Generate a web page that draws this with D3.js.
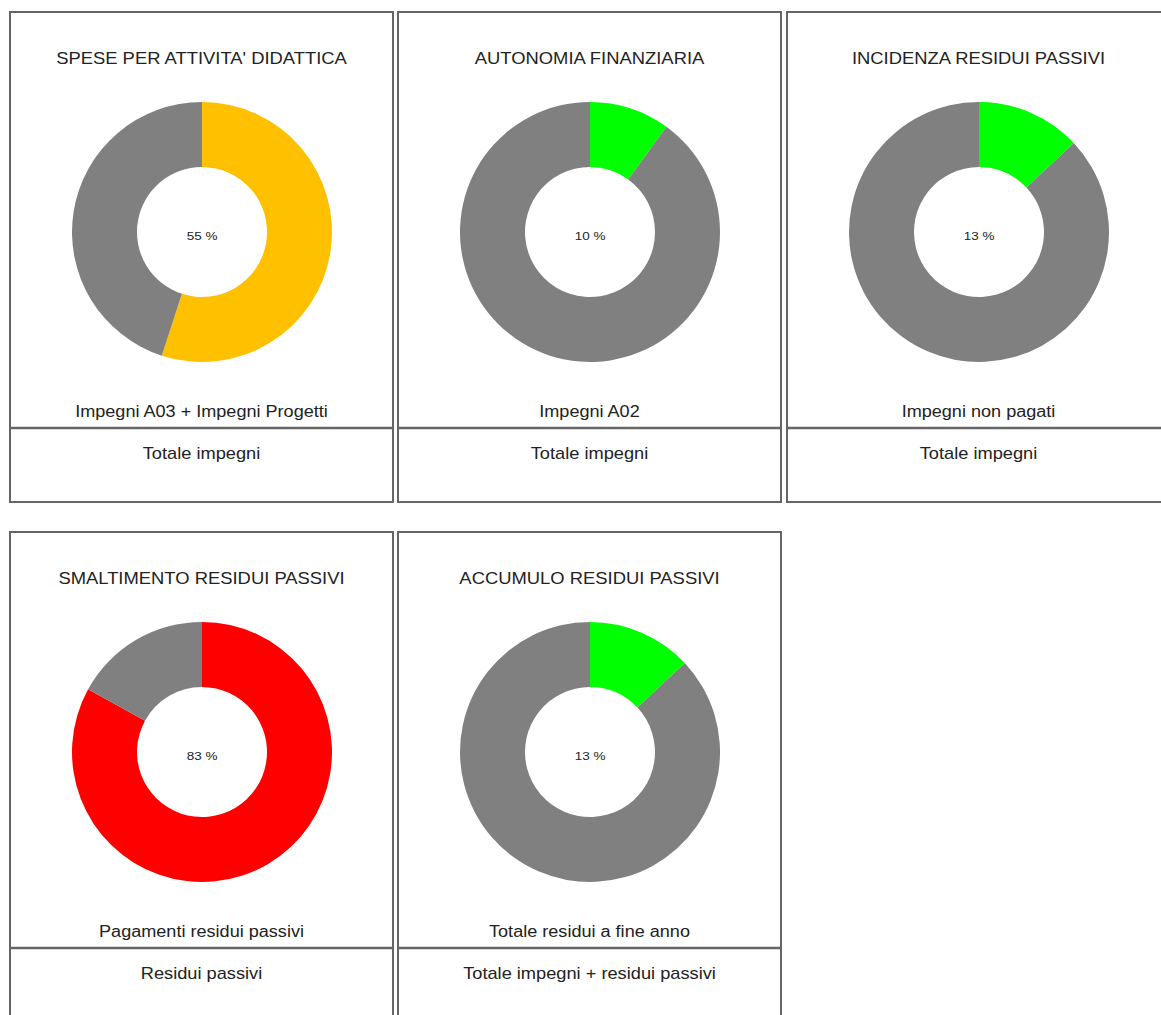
<!DOCTYPE html>
<html><head><meta charset="utf-8">
<script src="https://cdn.jsdelivr.net/npm/d3@7"></script>
<style>body{margin:0;background:#fff;}svg{display:block;}</style>
</head><body>
<svg id="c" width="1161" height="1015"></svg>
<script>
const titles = ["SPESE PER ATTIVITA' DIDATTICA","AUTONOMIA FINANZIARIA","INCIDENZA RESIDUI PASSIVI","SMALTIMENTO RESIDUI PASSIVI","ACCUMULO RESIDUI PASSIVI"];
const percents = [55, 10, 13, 83, 13];
const colors = ["#FFC000","#00FF00","#00FF00","#FF0000","#00FF00"];
const numerators = ["Impegni A03 + Impegni Progetti","Impegni A02","Impegni non pagati","Pagamenti residui passivi","Totale residui a fine anno"];
const denominators = ["Totale impegni","Totale impegni","Totale impegni","Residui passivi","Totale impegni + residui passivi"];
const restColor = "#808080";

const svg = d3.select("#c");
const colX = [10, 398, 787];
const rowY = [12, 532];
const W = 383, H = 490;
const pie = d3.pie().sort(null).value(d => d);
const arc = d3.arc().innerRadius(65).outerRadius(130);
const FONT = "Liberation Sans, Arial, sans-serif";

function label(g, x, y, txt, size, sx) {
  g.append("text").attr("transform", `translate(${x},${y}) scale(${sx},1)`)
    .attr("text-anchor", "middle").attr("font-family", FONT)
    .attr("font-size", size).attr("fill", "#222").text(txt);
}

titles.forEach((t, i) => {
  const x0 = colX[i % 3], y0 = rowY[Math.floor(i / 3)];
  const g = svg.append("g").attr("transform", `translate(${x0},${y0})`);
  g.append("rect").attr("x", 0).attr("y", 0).attr("width", W).attr("height", H)
    .attr("fill", "#fff").attr("stroke", "#666").attr("stroke-width", 2);
  g.append("line").attr("x1", 0).attr("x2", W).attr("y1", 416).attr("y2", 416)
    .attr("stroke", "#666").attr("stroke-width", 2.5);
  label(g, W / 2, 52, t, 16, 1.15);
  const cg = g.append("g").attr("transform", `translate(${W / 2 + 0.5},220)`);
  const vals = [percents[i], 100 - percents[i]];
  const cols = [colors[i], restColor];
  cg.selectAll("path").data(pie(vals)).join("path")
    .attr("d", arc).attr("fill", (d, j) => cols[j]);
  label(cg, 0, 8, percents[i] + " %", 10, 1.35);
  label(g, W / 2, 404.5, numerators[i], 16, 1.13);
  label(g, W / 2, 447, denominators[i], 16, 1.14);
});
</script>
</body></html>
